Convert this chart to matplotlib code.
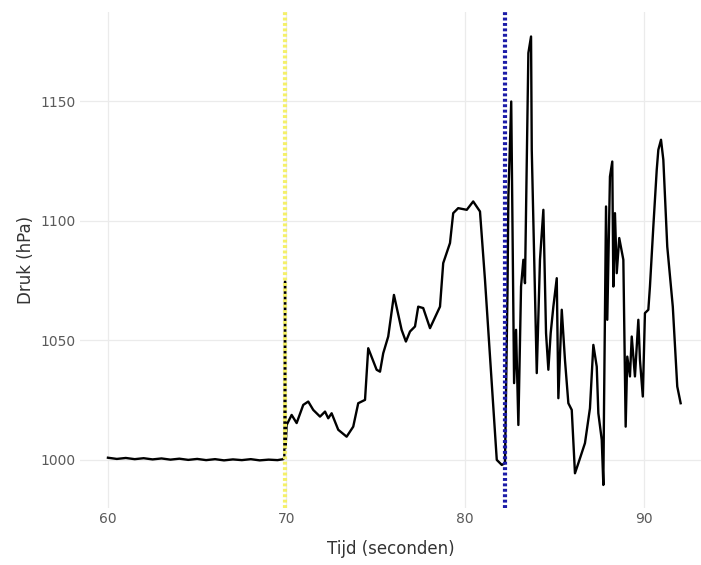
import matplotlib
matplotlib.use('Agg')
import matplotlib.pyplot as plt

# pressure sensor trace
tijd = [60.0, 60.5, 61.0, 61.5, 62.0, 62.5, 63.0, 63.5, 64.0, 64.5, 65.0,
        65.5, 66.0, 66.5, 67.0, 67.5, 68.0, 68.5, 69.0, 69.5, 69.82,
        69.88, 69.92, 69.95, 70.01, 70.29, 70.57, 70.94, 71.22, 71.50,
        71.88, 72.16, 72.34, 72.53, 72.90, 73.37, 73.74, 74.02, 74.40,
        74.58, 75.05, 75.24, 75.42, 75.70, 76.02, 76.45, 76.69, 76.92,
        77.20, 77.38, 77.66, 78.04, 78.60, 78.78, 79.16, 79.34, 79.62,
        80.10, 80.46, 80.84, 81.12, 81.78, 82.06, 82.24, 82.30, 82.38,
        82.43, 82.59, 82.75, 82.86, 82.99, 83.14, 83.27, 83.36, 83.55,
        83.70, 83.74, 84.02, 84.20, 84.39, 84.54, 84.67, 84.80, 84.95,
        85.14, 85.23, 85.42, 85.60, 85.79, 85.98, 86.16, 86.35, 86.72,
        87.00, 87.19, 87.38, 87.47, 87.66, 87.75, 87.79, 87.90, 87.97,
        88.12, 88.25, 88.31, 88.40, 88.50, 88.64, 88.87, 89.00, 89.09,
        89.24, 89.34, 89.52, 89.71, 89.80, 89.96, 90.08, 90.27, 90.36,
        90.55, 90.74, 90.83, 90.98, 91.11, 91.33, 91.64, 91.89, 92.08]
druk = [1000.9, 1000.4, 1000.8, 1000.3, 1000.7, 1000.2, 1000.6, 1000.1,
        1000.5, 1000.0, 1000.4, 999.9, 1000.3, 999.8, 1000.2, 999.9,
        1000.3, 999.8, 1000.1, 999.9, 1000.3,
        1001.0, 1074.6, 1005.0, 1014.6, 1018.8, 1015.4, 1023.0, 1024.4,
        1020.9, 1018.1, 1020.2, 1017.4, 1019.5, 1012.6, 1009.7, 1013.9,
        1023.7, 1025.1, 1046.7, 1037.7, 1036.9, 1044.6, 1051.6, 1069.0,
        1054.4, 1049.5, 1053.7, 1055.8, 1064.1, 1063.5, 1055.1, 1064.1,
        1082.3, 1090.7, 1103.2, 1105.3, 1104.6, 1108.1, 1103.9, 1075.3,
        1000.0, 997.9, 998.6, 1030.0, 1070.0, 1110.2, 1149.9, 1032.1,
        1054.4, 1014.6, 1072.5, 1083.7, 1073.9, 1170.2, 1177.1, 1129.7,
        1036.3, 1083.7, 1104.6, 1053.0, 1037.7, 1053.0, 1064.1, 1076.0,
        1025.8, 1062.8, 1041.8, 1023.7, 1020.9, 994.4, 998.6, 1007.0,
        1021.6, 1048.1, 1039.0, 1019.5, 1008.4, 989.5, 1023.7, 1106.0,
        1058.6, 1118.5, 1124.8, 1072.5, 1103.2, 1078.1, 1092.8, 1083.7,
        1013.9, 1043.2, 1034.9, 1051.6, 1034.9, 1058.6, 1041.8, 1026.5,
        1061.4, 1062.8, 1072.5, 1097.6, 1121.3, 1129.7, 1133.9, 1125.5,
        1089.2, 1064.1, 1030.7, 1023.7]

start_tijd = 69.92
eind_tijd = 82.24

x_ticks = [60, 70, 80, 90]
y_ticks = [1000, 1050, 1100, 1150]

fig = plt.figure(figsize=(7.01, 5.65), dpi=100)
ax = fig.add_axes([0.114, 0.101, 0.886, 0.878])

ax.plot(tijd, druk, color='black', linewidth=1.7, zorder=2)
# markers for start and end of the measurement, drawn on top of the trace
ax.axvline(start_tijd, color='#f4f06a', linewidth=3.0, linestyle=(0, (0.7, 0.6)), zorder=3)
ax.axvline(eind_tijd, color='#1c1ca8', linewidth=3.0, linestyle=(0, (0.7, 0.6)), zorder=3)

ax.set_xlim(58.43, 93.22)
ax.set_ylim(979.9, 1187.4)
ax.set_xticks(x_ticks)
ax.set_yticks(y_ticks)
ax.grid(True, color='#ebebeb', linewidth=0.9, zorder=0)
ax.set_axisbelow(True)
for s in ax.spines.values():
    s.set_visible(False)
ax.tick_params(length=0, labelsize=10, labelcolor='#5a5a5a', pad=3)
ax.set_xlabel('Tijd (seconden)', fontsize=12, color='#333333', labelpad=10)
ax.set_ylabel('Druk (hPa)', fontsize=12, color='#333333', labelpad=4)

fig.savefig('out.png', dpi=100)
